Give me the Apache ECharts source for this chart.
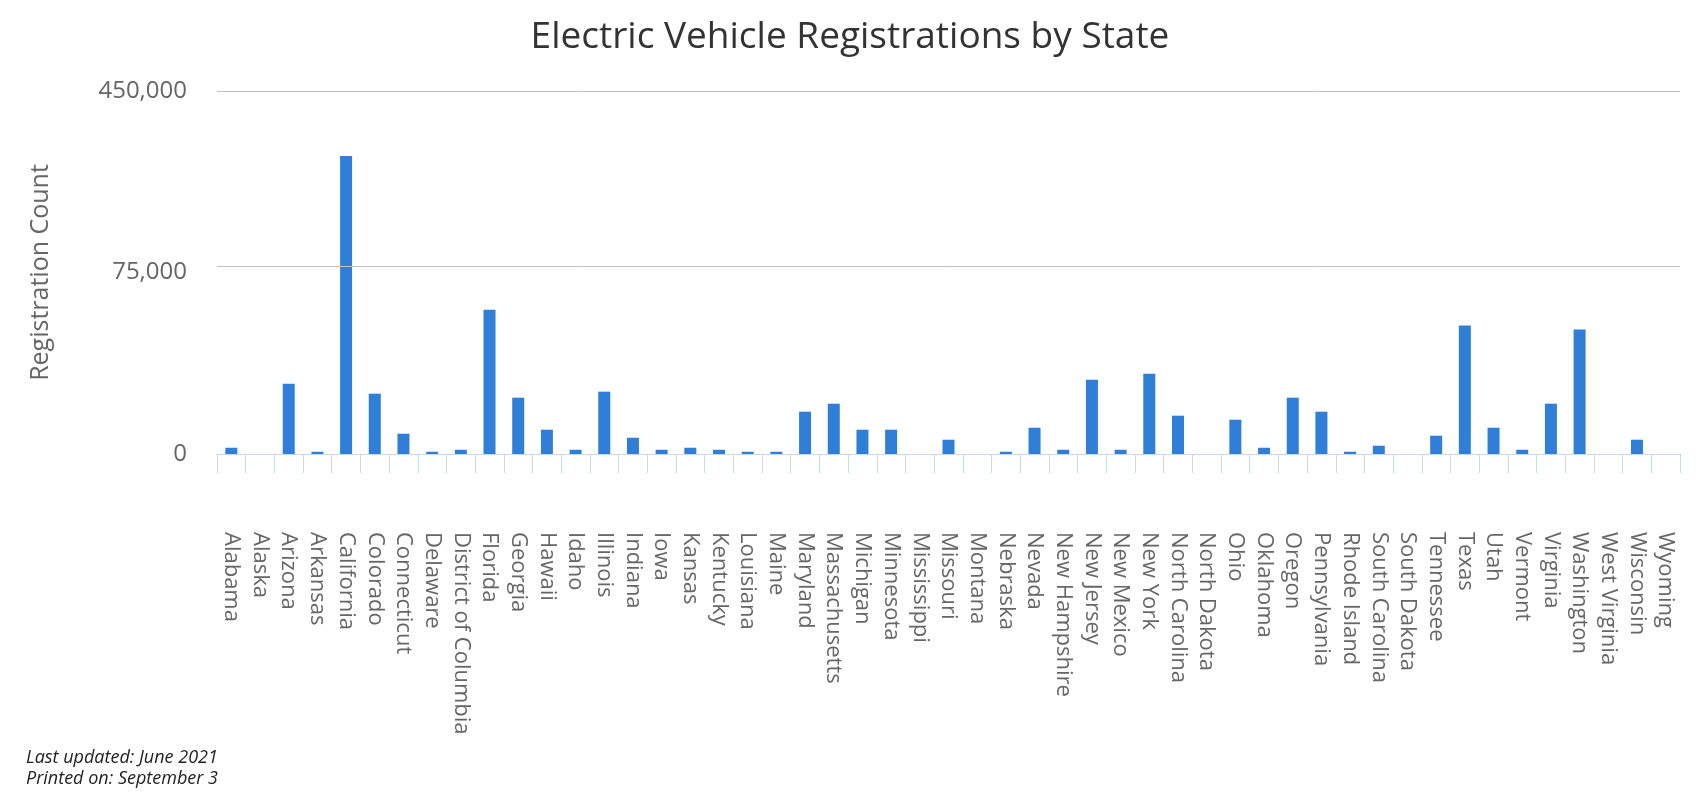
<!DOCTYPE html>
<html>
<head>
<meta charset="utf-8">
<title>Electric Vehicle Registrations by State</title>
<script src="https://cdn.jsdelivr.net/npm/echarts@6/dist/echarts.min.js"></script>
<style>
    html, body { margin: 0; padding: 0; background: #ffffff; }
    #main { width: 1700px; height: 800px; }
</style>
</head>
<body>
<div id="main"></div>
<script>
var states = ['Alabama', 'Alaska', 'Arizona', 'Arkansas', 'California', 'Colorado', 'Connecticut',
    'Delaware', 'District of Columbia', 'Florida', 'Georgia', 'Hawaii', 'Idaho', 'Illinois',
    'Indiana', 'Iowa', 'Kansas', 'Kentucky', 'Louisiana', 'Maine', 'Maryland', 'Massachusetts',
    'Michigan', 'Minnesota', 'Mississippi', 'Missouri', 'Montana', 'Nebraska', 'Nevada',
    'New Hampshire', 'New Jersey', 'New Mexico', 'New York', 'North Carolina', 'North Dakota',
    'Ohio', 'Oklahoma', 'Oregon', 'Pennsylvania', 'Rhode Island', 'South Carolina',
    'South Dakota', 'Tennessee', 'Texas', 'Utah', 'Vermont', 'Virginia', 'Washington',
    'West Virginia', 'Wisconsin', 'Wyoming'];

var registrations = [2500, 0, 28100, 900, 424000, 24100, 8100,
    900, 1700, 57600, 22500, 9700, 1700, 24900,
    6500, 1700, 2500, 1700, 900, 900, 16900, 20100,
    9700, 9700, 0, 5700, 0, 900, 10500,
    1700, 29700, 1700, 32100, 15300, 0,
    13700, 2500, 22500, 16900, 900, 3300,
    0, 7300, 51300, 10500, 1700, 20100, 49700,
    0, 5700, 0];

var yTicks = [0, 75000, 450000];
// the axis skips this stretch
var yBreak = [75000, 380000];

var footNotes = ['Last updated: June 2021', 'Printed on: September 3'];

var myChart = echarts.init(document.getElementById('main'));
var option = {
    animation: false,
    title: {
        text: 'Electric Vehicle Registrations by State',
        left: 'center',
        top: 14,
        textStyle: {
            fontFamily: 'Open Sans',
            fontSize: 37,
            fontWeight: 'normal',
            color: '#333333'
        }
    },
    grid: {
        left: 217,
        right: 20,
        top: 91,
        bottom: 346,
        outerBoundsMode: 'none'
    },
    xAxis: {
        type: 'category',
        data: states,
        axisLine: { lineStyle: { color: '#ccd6eb', width: 1 } },
        axisTick: { show: true, length: 19, lineStyle: { color: '#ccd6eb' } },
        axisLabel: {
            rotate: -90,
            interval: 0,
            margin: 78,
            fontFamily: 'Open Sans',
            fontSize: 22,
            color: '#666666'
        }
    },
    yAxis: {
        type: 'value',
        min: 0,
        max: 450000,
        interval: 75000,
        breaks: [{ start: yBreak[0], end: yBreak[1], gap: 0 }],
        breakArea: { show: false },
        name: 'Registration Count',
        nameLocation: 'middle',
        nameGap: 164,
        nameTextStyle: {
            fontFamily: 'Open Sans',
            fontSize: 25,
            color: '#666666'
        },
        axisLine: { show: false },
        axisTick: { show: false },
        splitLine: { lineStyle: { color: '#c0c0c0', width: 1 } },
        axisLabel: {
            margin: 30,
            fontFamily: 'Open Sans',
            fontSize: 24,
            color: '#666666',
            formatter: function (v) {
                if (yTicks.indexOf(v) < 0) {
                    return '';
                }
                return v.toLocaleString('en-US');
            }
        }
    },
    graphic: [
        {
            type: 'text', left: 26, top: 749,
            style: { text: footNotes[0], font: 'italic 18px "Open Sans"', fill: '#222222' }
        },
        {
            type: 'text', left: 26, top: 770,
            style: { text: footNotes[1], font: 'italic 18px "Open Sans"', fill: '#222222' }
        }
    ],
    series: [
        {
            name: 'Registrations',
            type: 'bar',
            data: registrations,
            barWidth: 12,
            itemStyle: { color: '#2f7ed8' },
            // grid line at the break edge, the axis leaves it out
            markLine: {
                silent: true,
                symbol: 'none',
                label: { show: false },
                lineStyle: { color: '#c0c0c0', type: 'solid', width: 1 },
                data: [{ yAxis: yTicks[1] }]
            }
        }
    ]
};
if (option && typeof option === "object") {
    myChart.setOption(option, true);
}
</script>
</body>
</html>
